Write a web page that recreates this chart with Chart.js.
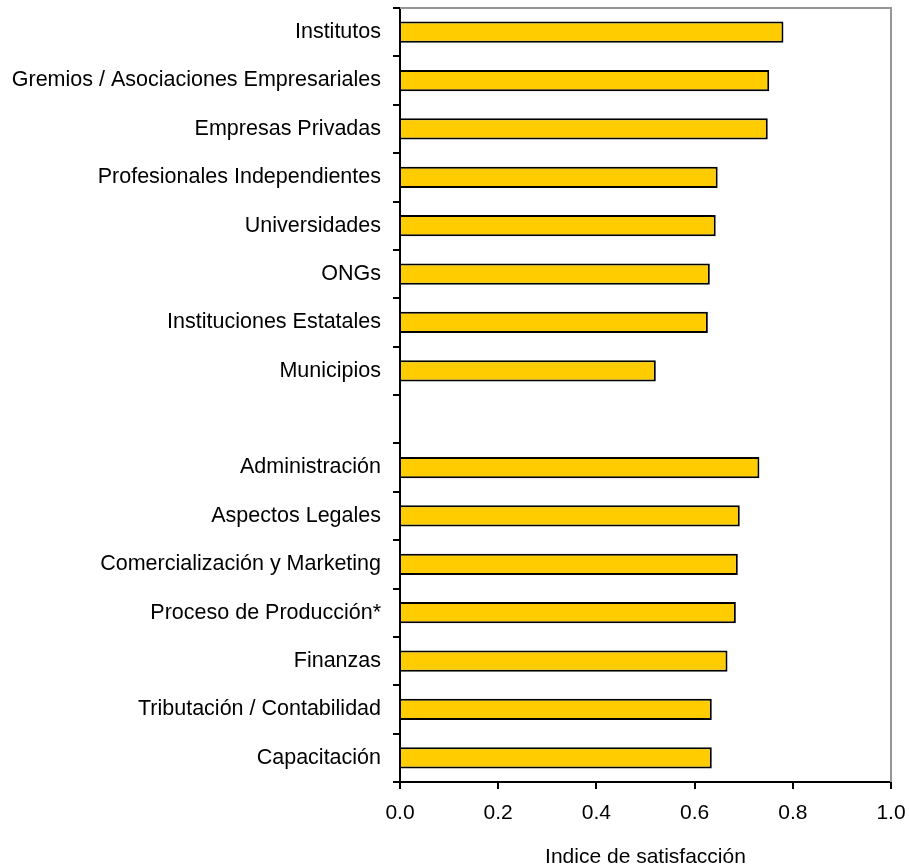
<!DOCTYPE html>
<html>
<head>
<meta charset="utf-8">
<script src="https://cdn.jsdelivr.net/npm/chart.js@4/dist/chart.umd.min.js"></script>
<style>
  html, body { margin: 0; padding: 0; background: #fff; }
  #wrap { width: 909px; height: 868px; }
</style>
</head>
<body>
<div id="wrap"><canvas id="chart" width="909" height="868"></canvas></div>
<script>
"use strict";

// categories, top to bottom (empty one is the gap between the two groups)
const categories = [
  "Institutos",
  "Gremios / Asociaciones Empresariales",
  "Empresas Privadas",
  "Profesionales Independientes",
  "Universidades",
  "ONGs",
  "Instituciones Estatales",
  "Municipios",
  "",
  "Administración",
  "Aspectos Legales",
  "Comercialización y Marketing",
  "Proceso de Producción*",
  "Finanzas",
  "Tributación / Contabilidad",
  "Capacitación"
];

const satisfaction = [
  0.781, 0.752, 0.749, 0.647, 0.643, 0.631, 0.627, 0.521,
  null,
  0.732, 0.692, 0.688, 0.684, 0.667, 0.635, 0.635
];

const xTicks = [0, 0.2, 0.4, 0.6, 0.8, 1.0];
const xTitle = "Indice de satisfacción";

const fontFamily = "'Liberation Sans', Arial, sans-serif";

// gray frame on top and right side of the plot
const frameLines = {
  id: "frameLines",
  afterDraw(chart) {
    const a = chart.chartArea;
    const ctx = chart.ctx;
    ctx.save();
    ctx.strokeStyle = "#969696";
    ctx.lineWidth = 2;
    ctx.beginPath();
    ctx.moveTo(a.left, a.top);
    ctx.lineTo(a.right, a.top);
    ctx.lineTo(a.right, a.bottom);
    ctx.stroke();
    ctx.restore();
  }
};

const data = {
  labels: categories,
  datasets: [
    {
      label: xTitle,
      data: satisfaction,
      backgroundColor: "#FFCC00",
      borderColor: "#000000",
      borderWidth: 2,
      borderSkipped: "start",
      barPercentage: 0.44,
      categoryPercentage: 1.0
    }
  ]
};

const config = {
  type: "bar",
  data: data,
  options: {
    indexAxis: "y",
    responsive: false,
    animation: false,
    layout: { padding: { left: 0, right: 18, top: 8, bottom: 0 } },
    plugins: {
      legend: { display: false },
      tooltip: { enabled: false }
    },
    scales: {
      x: {
        min: 0,
        max: 1,
        afterBuildTicks(scale) {
          scale.ticks = xTicks.map(v => ({ value: v }));
        },
        afterFit(scale) {
          scale.paddingLeft = 0;
          scale.paddingRight = 0;
        },
        ticks: {
          color: "#000",
          font: { family: fontFamily, size: 21, lineHeight: 1 },
          padding: 14,
          callback: v => Number(v).toFixed(1)
        },
        grid: {
          drawOnChartArea: false,
          color: "#000",
          lineWidth: 2,
          tickLength: 7
        },
        border: { color: "#000", width: 2 },
        title: {
          display: true,
          text: xTitle,
          color: "#000",
          font: { family: fontFamily, size: 21, lineHeight: 1 },
          padding: { top: 9, bottom: 0 }
        }
      },
      y: {
        afterFit(scale) {
          scale.width = 400;
          scale.paddingTop = 0;
          scale.paddingBottom = 0;
        },
        ticks: {
          color: "#000",
          font: { family: fontFamily, size: 21.5 },
          padding: 12,
          autoSkip: false
        },
        grid: {
          offset: true,
          drawOnChartArea: false,
          color: "#000",
          lineWidth: 2,
          tickLength: 7
        },
        border: { color: "#000", width: 2 }
      }
    }
  },
  plugins: [frameLines]
};

const satisfactionChart = new Chart(document.getElementById("chart"), config);
</script>
</body>
</html>
